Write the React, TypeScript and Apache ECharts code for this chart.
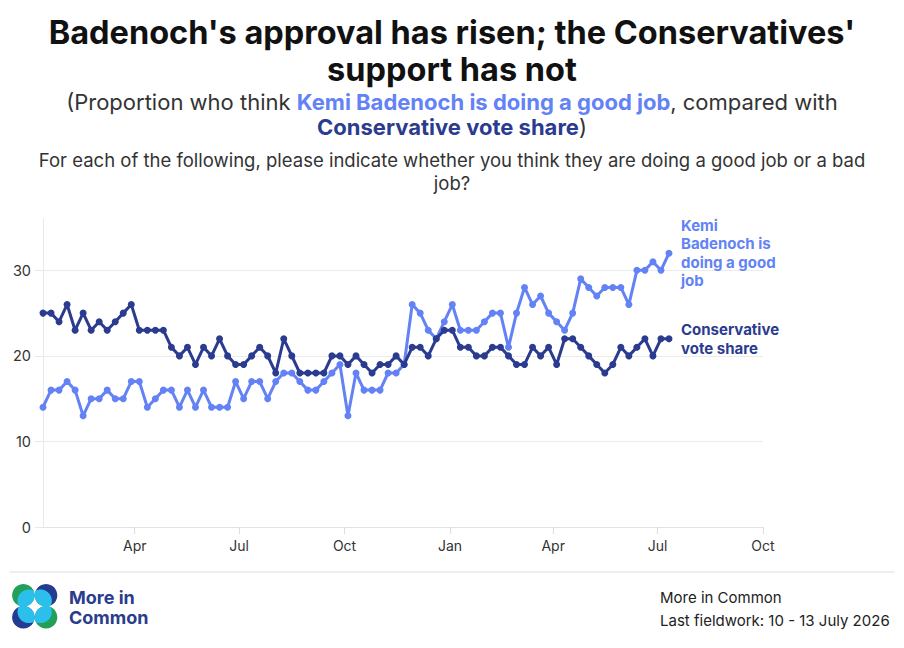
import React, { useEffect, useRef } from "react";
import * as echarts from "echarts";

const weekDates = [
  "2025-01-11", "2025-01-18", "2025-01-25", "2025-02-01", "2025-02-08", "2025-02-15", "2025-02-22", "2025-03-01",
  "2025-03-08", "2025-03-15", "2025-03-22", "2025-03-29", "2025-04-05", "2025-04-12", "2025-04-19", "2025-04-26",
  "2025-05-03", "2025-05-10", "2025-05-17", "2025-05-24", "2025-05-31", "2025-06-07", "2025-06-14", "2025-06-21",
  "2025-06-28", "2025-07-05", "2025-07-12", "2025-07-19", "2025-07-26", "2025-08-02", "2025-08-09", "2025-08-16",
  "2025-08-23", "2025-08-30", "2025-09-06", "2025-09-13", "2025-09-20", "2025-09-27", "2025-10-04", "2025-10-11",
  "2025-10-18", "2025-10-25", "2025-11-01", "2025-11-08", "2025-11-15", "2025-11-22", "2025-11-29", "2025-12-06",
  "2025-12-13", "2025-12-20", "2025-12-27", "2026-01-03", "2026-01-10", "2026-01-17", "2026-01-24", "2026-01-31",
  "2026-02-07", "2026-02-14", "2026-02-21", "2026-02-28", "2026-03-07", "2026-03-14", "2026-03-21", "2026-03-28",
  "2026-04-04", "2026-04-11", "2026-04-18", "2026-04-25", "2026-05-02", "2026-05-09", "2026-05-16", "2026-05-23",
  "2026-05-30", "2026-06-06", "2026-06-13", "2026-06-20", "2026-06-27", "2026-07-04", "2026-07-11",
];

const badenochGoodJob = [
  14, 16, 16, 17, 16, 13, 15, 15, 16, 15, 15, 17, 17, 14, 15, 16,
  16, 14, 16, 14, 16, 14, 14, 14, 17, 15, 17, 17, 15, 17, 18, 18, 17,
  16, 16, 17, 18, 19, 13, 18, 16, 16, 16, 18, 18, 19, 26, 25, 23,
  22, 24, 26, 23, 23, 23, 24, 25, 25, 21, 25, 28, 26, 27, 25, 24,
  23, 25, 29, 28, 27, 28, 28, 28, 26, 30, 30, 31, 30, 32,
];

const conservativeVoteShare = [
  25, 25, 24, 26, 23, 25, 23, 24, 23, 24, 25, 26, 23, 23, 23, 23,
  21, 20, 21, 19, 21, 20, 22, 20, 19, 19, 20, 21, 20, 18, 22, 20, 18,
  18, 18, 18, 20, 20, 19, 20, 19, 18, 19, 19, 20, 19, 21, 21, 20,
  22, 23, 23, 21, 21, 20, 20, 21, 21, 20, 19, 19, 21, 20, 21, 19,
  22, 22, 21, 20, 19, 18, 19, 21, 20, 21, 22, 20, 22, 22,
];

const seriesNames = ["Kemi Badenoch is doing a good job", "Conservative vote share"];
const seriesColors = ["#6382F5", "#2B3B8F"];

const yTickValues = [0, 10, 20, 30];
const yMax = 36;

const xTickDates = ["2025-04-01", "2025-07-01", "2025-10-01", "2026-01-01", "2026-04-01", "2026-07-01", "2026-10-01"];
const xTickLabels = ["Apr", "Jul", "Oct", "Jan", "Apr", "Jul", "Oct"];
const xEndDate = "2026-10-01";

const titleText = "Badenoch's approval has risen; the Conservatives'\nsupport has not";
const subtitleText =
  "(Proportion who think {a|Kemi Badenoch is doing a good job}, compared with\n{b|Conservative vote share})";
const questionText =
  "For each of the following, please indicate whether you think they are doing a good job or a bad\njob?";
const sourceLines = ["More in Common", "Last fieldwork: 10 - 13 July 2026"];
const logoText = "More in\nCommon";

const FONT = "Inter, 'Noto Sans', sans-serif";

function lensPoints(ax: number, ay: number, bx: number, by: number, r: number) {
  const pts: number[][] = [];
  const N = 180;
  for (let i = 0; i < N; i++) {
    const t = (i / N) * Math.PI * 2;
    const px = ax + r * Math.cos(t);
    const py = ay + r * Math.sin(t);
    if ((px - bx) ** 2 + (py - by) ** 2 <= r * r) pts.push([px, py]);
    const qx = bx + r * Math.cos(t);
    const qy = by + r * Math.sin(t);
    if ((qx - ax) ** 2 + (qy - ay) ** 2 <= r * r) pts.push([qx, qy]);
  }
  const mx = (ax + bx) / 2;
  const my = (ay + by) / 2;
  pts.sort((p, q) => Math.atan2(p[1] - my, p[0] - mx) - Math.atan2(q[1] - my, q[0] - mx));
  return pts;
}

function buildLogo() {
  const r = 11.3;
  const cx = 34.7;
  const cy = 606.3;
  const dx = 11.35;
  const dy = 11;
  const shift = 5.5;
  const lobes = [
    { x: cx - dx, y: cy - dy, sx: 1, sy: 1, color: "#22A05A" },
    { x: cx + dx, y: cy - dy, sx: -1, sy: 1, color: "#233C91" },
    { x: cx - dx, y: cy + dy, sx: 1, sy: -1, color: "#233C91" },
    { x: cx + dx, y: cy + dy, sx: -1, sy: -1, color: "#22A05A" },
  ];
  const els: any[] = [];
  lobes.forEach((l) => {
    els.push({ type: "circle", shape: { cx: l.x, cy: l.y, r }, style: { fill: l.color } });
    els.push({
      type: "polygon",
      shape: { points: lensPoints(l.x, l.y, l.x + l.sx * shift, l.y + l.sy * shift, r) },
      style: { fill: "#2BBFEB" },
    });
  });
  return els;
}

export default function App() {
  const ref = useRef<HTMLDivElement>(null);

  useEffect(() => {
    document.body.style.margin = "0";
    if (!ref.current) return;
    const chart = echarts.init(ref.current, undefined, { renderer: "svg" });

    const tickTimes = xTickDates.map((d) => Date.parse(d));
    const labelFor = (v: number) => {
      const i = tickTimes.indexOf(v);
      return i >= 0 ? xTickLabels[i] : "";
    };

    const seriesData = [badenochGoodJob, conservativeVoteShare];

    const option: any = {
      animation: false,
      backgroundColor: "#ffffff",
      grid: { left: 43, right: 141, top: 219, bottom: 121, containLabel: false },
      xAxis: {
        type: "value",
        min: Date.parse(weekDates[0]),
        max: Date.parse(xEndDate),
        axisLine: { show: true, lineStyle: { color: "#e3e3e3", width: 1 } },
        axisTick: { show: true, customValues: tickTimes, length: 7, lineStyle: { color: "#dddddd" } },
        axisLabel: {
          show: true,
          customValues: tickTimes,
          formatter: (v: number) => labelFor(v),
          color: "#333333",
          fontSize: 14,
          fontFamily: FONT,
          margin: 11,
        },
        splitLine: { show: false },
      },
      yAxis: {
        type: "value",
        min: 0,
        max: yMax,
        interval: 10,
        axisLine: { show: true, lineStyle: { color: "#e8e8e8", width: 1 } },
        axisTick: { show: true, customValues: yTickValues, length: 8, lineStyle: { color: "#e8e8e8" } },
        axisLabel: {
          show: true,
          customValues: yTickValues,
          color: "#333333",
          fontSize: 14.5,
          fontFamily: FONT,
          margin: 12,
        },
        splitLine: {
          show: true,
          lineStyle: { color: ["#ececec", "#ececec", "#ececec", "#ececec", "rgba(0,0,0,0)"], width: 1 },
        },
      },
      series: seriesNames.map((name, si) => ({
        name,
        type: "line",
        data: weekDates.map((d, i) => [Date.parse(d), seriesData[si][i]]),
        symbol: "circle",
        symbolSize: 7,
        showSymbol: true,
        lineStyle: { color: seriesColors[si], width: 3 },
        itemStyle: { color: seriesColors[si] },
        z: 2 + si,
        endLabel: {
          show: true,
          formatter: "{a}",
          color: seriesColors[si],
          fontSize: 15,
          fontWeight: "bold",
          fontFamily: FONT,
          lineHeight: 18.5,
          width: 104,
          overflow: "break",
          distance: 12,
        },
      })),
      graphic: [
        {
          type: "text",
          x: 452,
          y: 14.5,
          style: {
            text: titleText,
            align: "center",
            verticalAlign: "top",
            fontFamily: FONT,
            fontSize: 32.5,
            fontWeight: "bold",
            lineHeight: 36.5,
            fill: "#111111",
          },
        },
        {
          type: "text",
          x: 452,
          y: 89.5,
          style: {
            text: subtitleText,
            align: "center",
            verticalAlign: "top",
            fontFamily: FONT,
            fontSize: 22,
            lineHeight: 25,
            fill: "#333333",
            rich: {
              a: { fontFamily: FONT, fontSize: 22, fontWeight: "bold", fill: seriesColors[0], lineHeight: 25 },
              b: { fontFamily: FONT, fontSize: 22, fontWeight: "bold", fill: seriesColors[1], lineHeight: 25 },
            },
          },
        },
        {
          type: "text",
          x: 452,
          y: 148.5,
          style: {
            text: questionText,
            align: "center",
            verticalAlign: "top",
            fontFamily: FONT,
            fontSize: 18.5,
            lineHeight: 23,
            fill: "#333333",
          },
        },
        {
          type: "line",
          shape: { x1: 10, y1: 572, x2: 894, y2: 572 },
          style: { stroke: "#dddddd", lineWidth: 1 },
        },
        ...buildLogo(),
        {
          type: "text",
          x: 69,
          y: 587,
          style: {
            text: logoText,
            align: "left",
            verticalAlign: "top",
            fontFamily: FONT,
            fontSize: 18,
            fontWeight: "bold",
            lineHeight: 20,
            fill: "#2A3C8C",
          },
        },
        {
          type: "text",
          x: 660,
          y: 586,
          style: {
            text: sourceLines.join("\n"),
            align: "left",
            verticalAlign: "top",
            fontFamily: FONT,
            fontSize: 15,
            lineHeight: 23,
            fill: "#222222",
          },
        },
      ],
    };

    chart.setOption(option);
    return () => chart.dispose();
  }, []);

  return <div ref={ref} style={{ width: 904, height: 648 }} />;
}
